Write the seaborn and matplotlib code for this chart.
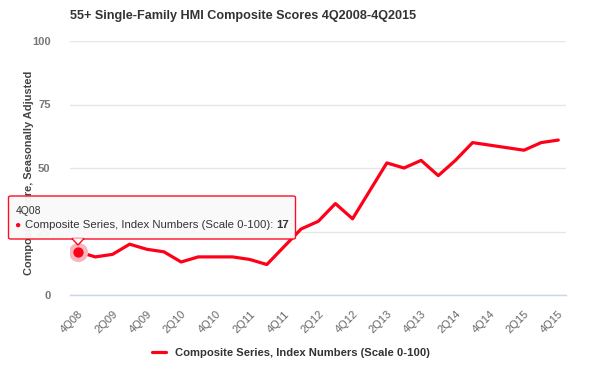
import pandas as pd
import seaborn as sns
import matplotlib.pyplot as plt
from matplotlib.patches import FancyBboxPatch, Polygon

quarters = ["4Q08", "1Q09", "2Q09", "3Q09", "4Q09", "1Q10", "2Q10", "3Q10", "4Q10",
            "1Q11", "2Q11", "3Q11", "4Q11", "1Q12", "2Q12", "3Q12", "4Q12",
            "1Q13", "2Q13", "3Q13", "4Q13", "1Q14", "2Q14", "3Q14", "4Q14",
            "1Q15", "2Q15", "3Q15", "4Q15"]
scores = [17, 15, 16, 20, 18, 17, 13, 15, 15, 15, 14, 12, 19, 26, 29, 36, 30,
          41, 52, 50, 53, 47, 53, 60, 59, 58, 57, 60, 61]
y_ticks = [0, 25, 50, 75, 100]
series_name = "Composite Series, Index Numbers (Scale 0-100)"

df = pd.DataFrame({"pos": range(len(quarters)), "quarter": quarters, "score": scores})

sns.set_style("white")
plt.rcParams["font.family"] = ["Liberation Sans", "DejaVu Sans"]

W, H = 589, 367
fig = plt.figure(figsize=(W / 100, H / 100), dpi=100)
ax = fig.add_axes([70 / W, 1 - 295 / H, 496 / W, 254 / H])

red = "#ff0019"
sns.lineplot(data=df, x="pos", y="score", color=red, linewidth=2.3, ax=ax,
             label=series_name, zorder=3)

ax.set_xlim(-0.48, len(quarters) - 1 + 0.45)
ax.set_ylim(0, 100)
ax.set_yticks(y_ticks)
ax.set_xticks(df["pos"][::2])
ax.set_xticklabels(df["quarter"][::2], rotation=45, ha="right", rotation_mode="anchor")
ax.yaxis.grid(True, color="#e6e6e6", linewidth=1)
ax.set_axisbelow(True)
for s in ["top", "right", "left"]:
    ax.spines[s].set_visible(False)
ax.spines["bottom"].set_color("#ccd6eb")
ax.spines["bottom"].set_linewidth(1)
ax.tick_params(axis="y", length=0, pad=14, labelsize=8, labelcolor="#777777")
for t in ax.get_yticklabels():
    t.set_fontweight("bold")
ax.tick_params(axis="x", length=7, width=1, color="#ccd6eb", pad=3,
               labelsize=8, labelcolor="#666666")
ax.set_xlabel("")
ax.set_ylabel("Composite Score, Seasonally Adjusted", fontsize=7.9,
              fontweight="bold", color="#444444")
ax.yaxis.set_label_coords((34 - 70) / 496, 0.48)

fig.text(70 / W, 1 - 16 / H, "55+ Single-Family HMI Composite Scores 4Q2008-4Q2015",
         fontsize=9.1, fontweight="bold", color="#333333", va="center", ha="left")

leg = ax.legend(loc="center", bbox_to_anchor=(291 / W, 1 - 353 / H),
                bbox_transform=fig.transFigure, frameon=False, handlelength=1.3,
                prop={"weight": "bold", "size": 8.1})
for t in leg.get_texts():
    t.set_color("#333333")

# hovered point
ax.scatter([df["pos"][0]], [df["score"][0]], s=190, color="#f7b6bd", zorder=4, linewidths=0)
ax.scatter([df["pos"][0]], [df["score"][0]], s=55, color=red, zorder=5, linewidths=0)

# tooltip
box = FancyBboxPatch((8.5 / W, 1 - 239 / H), 287 / W, 43 / H,
                     boxstyle="round,pad=0,rounding_size=0.004",
                     transform=fig.transFigure, facecolor="#f9f9f9", edgecolor=red,
                     linewidth=1, alpha=0.95, zorder=10)
fig.add_artist(box)
tri = Polygon([(72 / W, 1 - 238.5 / H), (84 / W, 1 - 238.5 / H), (78 / W, 1 - 245 / H)],
              closed=True, transform=fig.transFigure, facecolor="#f9f9f9",
              edgecolor=red, linewidth=1, zorder=10)
fig.add_artist(tri)
cover = Polygon([(72.8 / W, 1 - 238.3 / H), (83.2 / W, 1 - 238.3 / H), (78 / W, 1 - 243.5 / H)],
                closed=True, transform=fig.transFigure, facecolor="#f9f9f9",
                edgecolor="none", zorder=11)
fig.add_artist(cover)

fig.text(16 / W, 1 - 211 / H, quarters[0], fontsize=7.5, color="#333333",
         va="center", ha="left", zorder=12)
fig.text(14.5 / W, 1 - 225 / H, "\u25cf", fontsize=7.5, color=red, va="center", ha="left", zorder=12)
t1 = fig.text(25 / W, 1 - 225 / H, series_name + ": ", fontsize=8.2, color="#333333",
              va="center", ha="left", zorder=12)
fig.canvas.draw()
bb = t1.get_window_extent()
fig.text(bb.x1 / W, 1 - 225 / H, str(scores[0]), fontsize=8.2, fontweight="bold",
         color="#333333", va="center", ha="left", zorder=12)

fig.savefig("out.png", dpi=100)
